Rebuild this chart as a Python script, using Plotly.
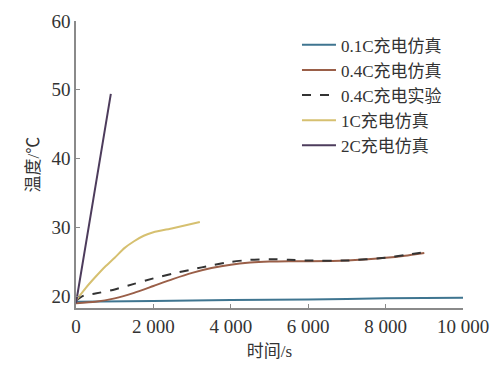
import plotly.graph_objects as go

# 0.1C simulation
t01 = [0, 2000, 4000, 6000, 8000, 10000]
T01 = [19.2, 19.3, 19.45, 19.55, 19.7, 19.8]

# 0.4C simulation
t04 = [0, 500, 1000, 1500, 2000, 2500, 3000, 3500, 4000, 4500, 5000, 5500, 6000, 7000, 8000, 8500, 9000]
T04 = [19.0, 19.2, 19.7, 20.5, 21.5, 22.5, 23.4, 24.1, 24.6, 24.9, 25.05, 25.1, 25.1, 25.2, 25.6, 25.9, 26.3]

# 0.4C experiment
t04e = [0, 200, 500, 1000, 1500, 2000, 2500, 3000, 3500, 4000, 4500, 5000, 5500, 6000, 7000, 8000, 8500, 9000]
T04e = [19.4, 20.1, 20.4, 21.0, 21.8, 22.6, 23.3, 23.9, 24.5, 25.0, 25.3, 25.4, 25.3, 25.2, 25.2, 25.6, 26.0, 26.4]

# 1C simulation
t1 = [0, 250, 500, 750, 1000, 1250, 1500, 1750, 2000, 2500, 3200]
T1 = [19.4, 21.2, 22.8, 24.3, 25.6, 27.0, 28.0, 28.8, 29.3, 29.9, 30.8]

# 2C simulation
t2 = [0, 450, 900]
T2 = [19.0, 34.2, 49.4]

names = ["0.1C充电仿真", "0.4C充电仿真", "0.4C充电实验", "1C充电仿真", "2C充电仿真"]
colors = ["#3f7590", "#9a5f48", "#333333", "#d6c070", "#4d3c5c"]

fig = go.Figure()
series = [(t01, T01, "solid"), (t04, T04, "solid"), (t04e, T04e, "dash"), (t1, T1, "solid"), (t2, T2, "solid")]
for (x, y, dash), n, c in zip(series, names, colors):
    fig.add_trace(go.Scatter(x=x, y=y, mode="lines", name=n,
                             line=dict(color=c, width=2, dash=dash, shape="spline", smoothing=0.6)))

serif = "Liberation Serif, Noto Sans CJK SC, serif"
axis_common = dict(showgrid=False, zeroline=False, showline=True, linecolor="#8a8a8a", linewidth=1.5,
                   ticks="inside", ticklen=4, tickcolor="#8a8a8a", tickwidth=1.2, automargin=False,
                   tickfont=dict(family=serif, size=19, color="#333333"))

fig.update_layout(
    width=492, height=365,
    margin=dict(l=68, r=37, t=13, b=65),
    paper_bgcolor="white", plot_bgcolor="white",
    showlegend=True,
    legend=dict(x=0.571, y=0.978, xanchor="left", yanchor="top",
                font=dict(family=serif, size=17, color="#333333"),
                bgcolor="rgba(0,0,0,0)", tracegroupgap=0, itemwidth=34),
    xaxis=dict(range=[0, 10000], tickvals=[0, 2000, 4000, 6000, 8000, 10000],
               ticktext=["0", "2 000", "4 000", "6 000", "8 000", "10 000"],
               title=dict(text="时间/s", font=dict(family=serif, size=17, color="#333333"), standoff=10),
               **axis_common),
    yaxis=dict(range=[18.3, 60], tickvals=[20, 30, 40, 50, 60],
               title=dict(text="温度/℃", font=dict(family=serif, size=17, color="#333333"), standoff=8),
               **axis_common),
)

fig.write_html("out.html")
